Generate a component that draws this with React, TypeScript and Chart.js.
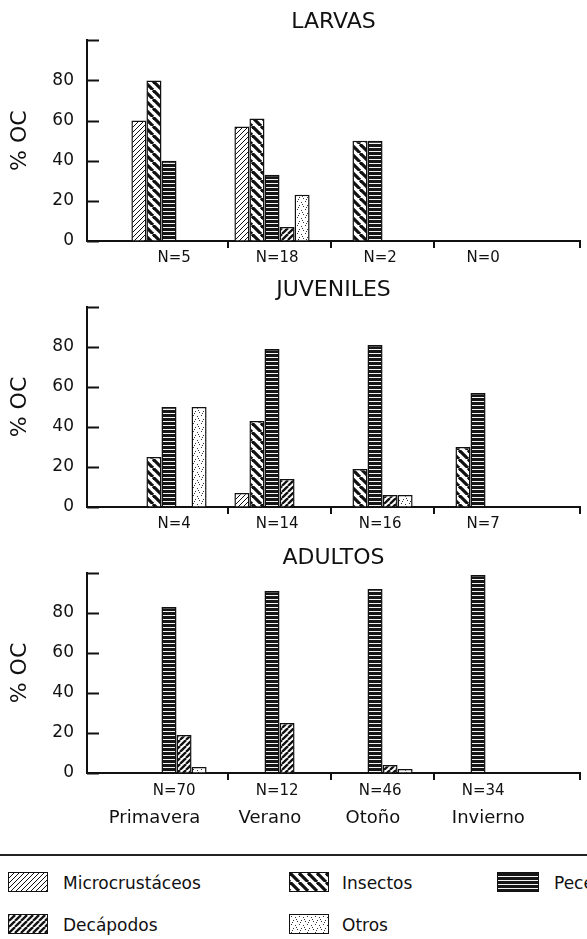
import React, { useEffect, useMemo, useRef } from 'react';
import { Chart, registerables } from 'chart.js';

Chart.register(...registerables);

const FONT = '"DejaVu Sans", "Liberation Sans", sans-serif';
const INK = '#111111';

// ---- data ----
const seriesNames = ['Microcrustáceos', 'Insectos', 'Peces', 'Decápodos', 'Otros'];
const seasons = ['Primavera', 'Verano', 'Otoño', 'Invierno'];
const categoryX = [0, 1, 2, 3];
const boundaryTicks = [0.57, 1.57, 2.57, 3.99];
const nLabelX = [0.05, 1.05, 2.05, 3.05];
const seasonLabelX = [-0.14, 0.98, 1.98, 3.1];

const larvasN = ['N=5', 'N=18', 'N=2', 'N=0'];
const larvasMicro = [60, 57, null, null];
const larvasInsectos = [80, 61, 50, null];
const larvasPeces = [40, 33, 50, null];
const larvasDecapodos = [null, 7, null, null];
const larvasOtros = [null, 23, null, null];

const juvenilesN = ['N=4', 'N=14', 'N=16', 'N=7'];
const juvenilesMicro = [null, 7, null, null];
const juvenilesInsectos = [25, 43, 19, 30];
const juvenilesPeces = [50, 79, 81, 57];
const juvenilesDecapodos = [null, 14, 6, null];
const juvenilesOtros = [50, null, 6, null];

const adultosN = ['N=70', 'N=12', 'N=46', 'N=34'];
const adultosMicro = [null, null, null, null];
const adultosInsectos = [null, null, null, null];
const adultosPeces = [83, 91, 92, 99];
const adultosDecapodos = [19, 25, 4, null];
const adultosOtros = [3, null, 2, null];

const X_MIN = -0.796;
const X_MAX = 3.99;

type Kind = 'micro' | 'insectos' | 'peces' | 'decapodos' | 'otros';
const kinds: Kind[] = ['micro', 'insectos', 'peces', 'decapodos', 'otros'];

function makeTile(kind: Kind): HTMLCanvasElement {
  const c = document.createElement('canvas');
  const g = c.getContext('2d')!;
  const diag = (s: number, w: number, forward: boolean) => {
    c.width = s; c.height = s;
    g.fillStyle = '#ffffff';
    g.fillRect(0, 0, s, s);
    g.strokeStyle = INK;
    g.lineWidth = w;
    for (let k = -1; k <= 1; k++) {
      g.beginPath();
      if (forward) { g.moveTo(k * s, s); g.lineTo(k * s + s, 0); }
      else { g.moveTo(k * s, 0); g.lineTo(k * s + s, s); }
      g.stroke();
    }
  };
  if (kind === 'micro') diag(5, 1, true);
  else if (kind === 'insectos') diag(9, 3.2, false);
  else if (kind === 'decapodos') diag(6, 2.3, true);
  else if (kind === 'peces') {
    c.width = 4; c.height = 4;
    g.fillStyle = '#161616';
    g.fillRect(0, 0, 4, 4);
    g.fillStyle = '#f4f4f4';
    g.fillRect(0, 3, 4, 1);
  } else {
    c.width = 8; c.height = 8;
    g.fillStyle = '#ffffff';
    g.fillRect(0, 0, 8, 8);
    g.fillStyle = '#333333';
    [[1, 1], [5, 2], [3, 5], [7, 6], [6, 4], [2, 7]].forEach(([x, y]) => g.fillRect(x, y, 1, 1));
  }
  return c;
}

const innerTicks = {
  id: 'innerTicks',
  afterDraw(chart: any) {
    const y = chart.scales.y;
    const { ctx, chartArea } = chart;
    ctx.save();
    ctx.strokeStyle = INK;
    ctx.lineWidth = 2;
    y.ticks.forEach((t: any) => {
      const py = Math.round(y.getPixelForValue(t.value)) + 0.5;
      ctx.beginPath();
      ctx.moveTo(chartArea.left, py);
      ctx.lineTo(chartArea.left + 12, py);
      ctx.stroke();
    });
    ctx.restore();
  },
};

type PanelDef = {
  title: string;
  nLabels: string[];
  values: (number | null)[][];
  withSeasons: boolean;
  top: number;
  height: number;
  titlePadTop: number;
  titlePadBottom: number;
  nPad: number;
};

const panels: PanelDef[] = [
  {
    title: 'LARVAS', nLabels: larvasN,
    values: [larvasMicro, larvasInsectos, larvasPeces, larvasDecapodos, larvasOtros],
    withSeasons: false, top: 0, height: 270, titlePadTop: 8.8, titlePadBottom: 5.1, nPad: 0,
  },
  {
    title: 'JUVENILES', nLabels: juvenilesN,
    values: [juvenilesMicro, juvenilesInsectos, juvenilesPeces, juvenilesDecapodos, juvenilesOtros],
    withSeasons: false, top: 270, height: 266, titlePadTop: 6.8, titlePadBottom: 3.8, nPad: 0,
  },
  {
    title: 'ADULTOS', nLabels: adultosN,
    values: [adultosMicro, adultosInsectos, adultosPeces, adultosDecapodos, adultosOtros],
    withSeasons: true, top: 536, height: 300, titlePadTop: 8.8, titlePadBottom: 1.8, nPad: 1,
  },
];

function PanelChart({ panel }: { panel: PanelDef }) {
  const ref = useRef<HTMLCanvasElement>(null);
  useEffect(() => {
    const canvas = ref.current!;
    const ctx = canvas.getContext('2d')!;
    const pats = kinds.map((k) => ctx.createPattern(makeTile(k), 'repeat'));
    const datasets = seriesNames.map((name, si) => ({
      label: name,
      data: panel.values[si].map((v, i) => ({ x: categoryX[i], y: v })),
      backgroundColor: pats[si] as any,
      borderColor: INK,
      borderWidth: 1.5,
      categoryPercentage: 0.73,
      barPercentage: 1,
      xAxisID: 'x',
      yAxisID: 'y',
    }));
    const labelAxis = (positions: number[], labels: string[], size: number, pad: number, h: number) => ({
      type: 'linear',
      position: 'bottom',
      min: X_MIN,
      max: X_MAX,
      bounds: 'data',
      offset: false,
      grid: { display: false, drawTicks: false, offset: false },
      border: { display: false },
      ticks: {
        autoSkip: false, maxRotation: 0, minRotation: 0, padding: pad, color: INK,
        font: { family: FONT, size },
        callback: (_v: any, i: number) => labels[i],
      },
      afterBuildTicks: (s: any) => { s.ticks = positions.map((v) => ({ value: v })); },
      afterFit: (s: any) => { s.height = h; },
    });
    const scales: any = {
      x: {
        type: 'linear',
        position: 'bottom',
        min: X_MIN,
        max: X_MAX,
        bounds: 'data',
        offset: false,
        grid: {
          display: true, offset: false, drawOnChartArea: false, drawTicks: true,
          tickLength: 7, color: INK, tickColor: INK, lineWidth: 2, tickWidth: 2,
        },
        border: { display: true, color: INK, width: 2 },
        ticks: { display: false, autoSkip: false },
        afterBuildTicks: (s: any) => { s.ticks = boundaryTicks.map((v) => ({ value: v })); },
        afterFit: (s: any) => { s.height = 8; },
      },
      xN: labelAxis(nLabelX, panel.nLabels, 15, panel.nPad, 20),
    };
    if (panel.withSeasons) scales.xS = labelAxis(seasonLabelX, seasons, 18, 7, 34);
    scales.y = {
      type: 'linear',
      position: 'left',
      min: 0,
      max: 100,
      ticks: {
        stepSize: 20, padding: 13, color: INK,
        font: { family: FONT, size: 17 },
        callback: (v: any) => (v === 100 ? '' : String(v)),
      },
      grid: { display: true, drawOnChartArea: false, drawTicks: false },
      border: { display: true, color: INK, width: 2 },
      title: {
        display: true, text: '% OC', color: INK,
        font: { family: FONT, size: 22 },
        padding: { top: 7, bottom: 0 },
      },
      afterFit: (s: any) => { s.width = 87; },
    };
    const chart = new Chart(canvas, {
      type: 'bar',
      data: { datasets } as any,
      options: {
        responsive: false,
        animation: false,
        layout: { padding: { left: 0, right: 7, top: 0, bottom: 1 } },
        plugins: {
          legend: { display: false },
          tooltip: { enabled: false },
          title: {
            display: true, text: panel.title, color: INK, fullSize: false,
            font: { family: FONT, size: 22, weight: 'normal' },
            padding: { top: panel.titlePadTop, bottom: panel.titlePadBottom },
          },
        },
        scales,
      } as any,
      plugins: [innerTicks as any],
    });
    return () => chart.destroy();
  }, [panel]);
  return (
    <canvas
      ref={ref}
      width={587}
      height={panel.height}
      style={{ position: 'absolute', left: 0, top: panel.top, width: 587, height: panel.height }}
    />
  );
}

type LegendItem = { kind: Kind; name: string; x: number; tx: number; y: number; w: number };
const legendItems: LegendItem[] = [
  { kind: 'micro', name: seriesNames[0], x: 8, tx: 63, y: 872, w: 40 },
  { kind: 'insectos', name: seriesNames[1], x: 289, tx: 342, y: 872, w: 40 },
  { kind: 'peces', name: seriesNames[2], x: 497, tx: 554, y: 872, w: 42 },
  { kind: 'decapodos', name: seriesNames[3], x: 8, tx: 63, y: 914, w: 40 },
  { kind: 'otros', name: seriesNames[4], x: 289, tx: 342, y: 914, w: 40 },
];

function Legend() {
  const urls = useMemo(() => {
    const m: Record<string, string> = {};
    kinds.forEach((k) => { m[k] = makeTile(k).toDataURL(); });
    return m;
  }, []);
  return (
    <>
      <div style={{ position: 'absolute', left: 0, top: 854, width: 587, height: 2, background: '#222' }} />
      {legendItems.map((it) => (
        <React.Fragment key={it.name}>
          <div
            style={{
              position: 'absolute', left: it.x, top: it.y, width: it.w, height: 20,
              boxSizing: 'border-box', border: `1.5px solid ${INK}`,
              backgroundImage: `url(${urls[it.kind]})`, backgroundRepeat: 'repeat',
            }}
          />
          <div
            style={{
              position: 'absolute', left: it.tx, top: it.y + 1, height: 20, lineHeight: '20px',
              fontFamily: FONT, fontSize: 17, color: INK, whiteSpace: 'nowrap',
            }}
          >
            {it.name}
          </div>
        </React.Fragment>
      ))}
    </>
  );
}

export default function App() {
  return (
    <div
      style={{
        position: 'absolute', left: 0, top: 0, width: 587, height: 939,
        overflow: 'hidden', background: '#ffffff',
      }}
    >
      {panels.map((p) => (
        <PanelChart key={p.title} panel={p} />
      ))}
      <Legend />
    </div>
  );
}
